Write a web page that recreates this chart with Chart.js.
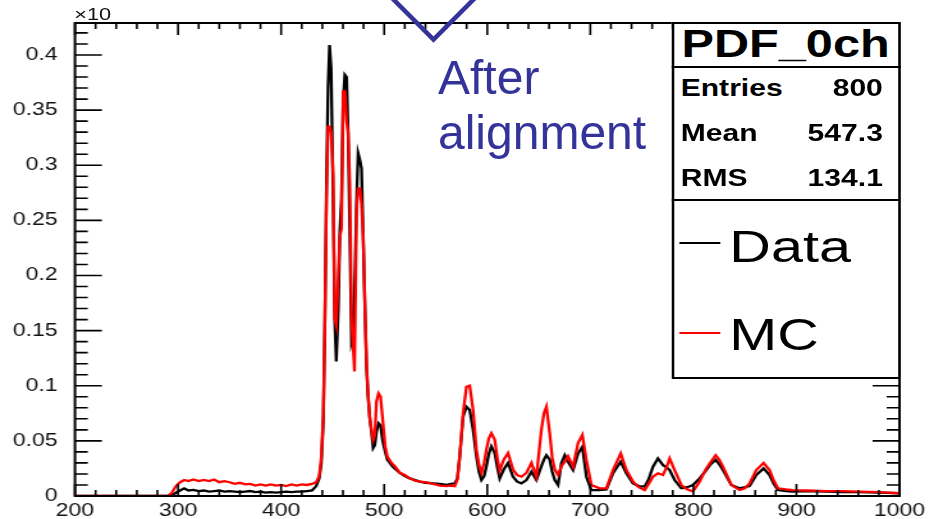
<!DOCTYPE html>
<html>
<head>
<meta charset="utf-8">
<script src="https://cdn.jsdelivr.net/npm/chart.js@4/dist/chart.umd.min.js"></script>
<style>
  html, body { margin: 0; padding: 0; background: #fff; overflow: hidden; }
  body { width: 934px; height: 519px; position: relative; font-family: "Liberation Sans", Arial, Helvetica, sans-serif; }
  #plotWrap { position: absolute; left: 0; top: 0; width: 730px; height: 519px; transform: scaleX(1.2795); transform-origin: 0 0; }
  #plotWrap canvas { position: absolute; left: 0; top: 0; }
  .txt { position: absolute; white-space: nowrap; }
  .box { position: absolute; box-sizing: border-box; border: 2px solid #000; background: #fff; }
  .hline { position: absolute; height: 2px; background: #000; }
</style>
</head>
<body>
<div id="plotWrap">
  <canvas id="c" width="730" height="519"></canvas>
</div>
<svg id="arrow" width="934" height="60" style="position:absolute;left:0;top:0">
  <polyline points="391,-3 433.5,39.5 476,-3" fill="none" stroke="#333399" stroke-width="4.5" stroke-linejoin="miter"/>
</svg>
<script>
// Bin centres (x) and bin contents of the two overlaid spectra.
const binCenters = [
  200, 290, 294, 298, 302, 306, 310, 315, 320, 325, 330, 335, 340, 345, 350, 355, 360, 365, 370, 375,
  380, 385, 390, 395, 400, 405, 410, 415, 420, 425, 430, 434, 437, 439, 441, 442.5, 444, 445.5, 447, 448.5,
  450.5, 452, 453.5, 455.5, 457, 458.6, 460.2, 461.8, 463.5, 465, 466.7, 468.3, 469.9, 471.2, 473.2, 474.7,
  476.4, 478, 479.6, 481.2, 482.9, 484.4, 486, 487.7, 489.3, 490.9, 492.5, 494.5, 496.5, 498.5, 501, 503,
  505.5, 508, 510.3, 515.2, 520, 524.8, 530, 534.5, 540, 547.4, 554, 560.4, 565, 568.5, 571, 573.3,
  576.6, 579.8, 583, 586.3, 589.5, 592, 594.4, 597, 599.2, 601.5, 604, 607.3, 610, 612.1, 616, 620.2,
  625, 629, 633.2, 638, 642.9, 647.7, 652.5, 655, 657.4, 660.6, 663, 665.5, 668.7, 672, 675.2, 678.4,
  683.3, 688.1, 692.3, 696.2, 701, 709, 715.6, 722, 729.5, 735, 741.4, 747, 752.7, 756.5, 760.8, 765.6,
  770.5, 774, 777, 781.8, 788.3, 794, 799.6, 806, 812.5, 817, 821.6, 825, 828.7, 836.8, 844.8, 850,
  854.5, 861, 868.1, 873.9, 878, 882, 890, 896.6, 910, 929, 945, 961, 980, 1000
];
const dataCounts = [
  0, 0, 0.0005, 0.003, 0.005, 0.007, 0.005, 0.0055, 0.0045, 0.005, 0.004, 0.0045, 0.005, 0.004, 0.0045, 0.004, 0.0035, 0.004, 0.0045, 0.0035,
  0.004, 0.003, 0.0035, 0.003, 0.0035, 0.004, 0.0035, 0.004, 0.004, 0.0045, 0.005, 0.009, 0.016, 0.03, 0.07, 0.16, 0.28, 0.37, 0.409, 0.388,
  0.27, 0.16, 0.122, 0.17, 0.24, 0.27, 0.358, 0.382, 0.38, 0.33, 0.237, 0.14, 0.146, 0.18, 0.267, 0.311,
  0.305, 0.297, 0.237, 0.176, 0.116, 0.09, 0.071, 0.058, 0.0435, 0.046, 0.058, 0.066, 0.064, 0.05, 0.04, 0.033,
  0.03, 0.027, 0.025, 0.021, 0.018, 0.016, 0.0145, 0.013, 0.012, 0.0115, 0.011, 0.010, 0.011, 0.0115, 0.016, 0.036,
  0.072, 0.081, 0.078, 0.06, 0.036, 0.022, 0.0145, 0.018, 0.027, 0.038, 0.045, 0.039, 0.025, 0.016, 0.024, 0.030,
  0.0175, 0.013, 0.0115, 0.0145, 0.022, 0.0145, 0.027, 0.033, 0.037, 0.033, 0.022, 0.0145, 0.010, 0.03, 0.037, 0.031,
  0.0235, 0.0385, 0.0447, 0.0175, 0.0054, 0.0054, 0.006, 0.0206, 0.031, 0.0206, 0.0115, 0.009, 0.0085, 0.015, 0.0266, 0.034,
  0.028, 0.026, 0.0235, 0.0145, 0.007, 0.008, 0.010, 0.016, 0.0235, 0.029, 0.0327, 0.029, 0.0235, 0.010, 0.007, 0.008,
  0.009, 0.019, 0.025, 0.019, 0.011, 0.0054, 0.0045, 0.004, 0.0045, 0.004, 0.0035, 0.0035, 0.003, 0.0025
];
const mcCounts = [
  0, 0, 0.003, 0.009, 0.0125, 0.0145, 0.0135, 0.015, 0.0135, 0.0145, 0.0135, 0.015, 0.0125, 0.0135, 0.0125, 0.011, 0.012, 0.0105, 0.011, 0.0095,
  0.0105, 0.0095, 0.0105, 0.0095, 0.010, 0.009, 0.0105, 0.0095, 0.0105, 0.010, 0.011, 0.0125, 0.018, 0.035, 0.075, 0.16, 0.27, 0.335, 0.335, 0.33,
  0.29, 0.161, 0.155, 0.2, 0.235, 0.243, 0.367, 0.367, 0.34, 0.33, 0.282, 0.161, 0.134, 0.113, 0.261, 0.279,
  0.279, 0.265, 0.237, 0.176, 0.12, 0.092, 0.071, 0.06, 0.051, 0.055, 0.0855, 0.093, 0.09, 0.07, 0.045, 0.036,
  0.032, 0.029, 0.027, 0.021, 0.019, 0.016, 0.014, 0.013, 0.0125, 0.011, 0.0095, 0.009, 0.0095, 0.009, 0.015, 0.035,
  0.075, 0.099, 0.1, 0.078, 0.042, 0.028, 0.021, 0.03, 0.042, 0.052, 0.057, 0.051, 0.033, 0.023, 0.033, 0.039,
  0.024, 0.019, 0.0175, 0.021, 0.03, 0.0175, 0.06, 0.075, 0.081, 0.057, 0.035, 0.024, 0.019, 0.027, 0.031, 0.036,
  0.0265, 0.048, 0.0553, 0.0327, 0.010, 0.007, 0.007, 0.0235, 0.0387, 0.0235, 0.013, 0.008, 0.0054, 0.011, 0.0175, 0.0206,
  0.019, 0.026, 0.034, 0.0235, 0.010, 0.006, 0.004, 0.013, 0.025, 0.031, 0.037, 0.033, 0.0266, 0.010, 0.0054, 0.007,
  0.0115, 0.0235, 0.030, 0.0235, 0.014, 0.007, 0.006, 0.0054, 0.005, 0.0045, 0.0045, 0.004, 0.0035, 0.0025
];
const xTickValues = [200, 300, 400, 500, 600, 700, 800, 900, 1000];
const yTickValues = [0, 0.05, 0.1, 0.15, 0.2, 0.25, 0.3, 0.35, 0.4];
const statsTitle = 'PDF_0ch';
const statsLabels = ['Entries', 'Mean', 'RMS'];
const statsValues = ['800', '547.3', '134.1'];
const seriesNames = ['Data', 'MC'];
const seriesColors = ['#000000', '#ff0000'];

const FONT = '"Liberation Sans", Arial, Helvetica, sans-serif';

// Place a text span by its baseline (line-height = font size).
function placeText(parent, str, o) {
  const el = document.createElement('div');
  el.className = 'txt';
  el.textContent = str;
  el.style.fontSize = o.size + 'px';
  el.style.lineHeight = o.size + 'px';
  el.style.fontWeight = o.weight || 'normal';
  el.style.color = o.color || '#000';
  el.style.top = (o.baseline - 0.8465 * o.size) + 'px';
  if (o.right !== undefined) { el.style.right = (parent.clientWidth - o.right) + 'px'; }
  else if (o.center !== undefined) { el.style.left = o.center + 'px'; el.style.transform = 'translateX(-50%)'; }
  else { el.style.left = o.left + 'px'; }
  parent.appendChild(el);
  return el;
}

// Frame with inward tick marks on all four sides.
const frameTicks = {
  id: 'frameTicks',
  afterDatasetsDraw(chart) {
    const { ctx, chartArea: a, scales: { x, y } } = chart;
    ctx.save();
    ctx.strokeStyle = '#000';
    ctx.lineWidth = 1.6;
    ctx.beginPath();
    for (let v = 200; v <= 1000 + 1e-9; v += 20) {
      const px = x.getPixelForValue(v);
      const len = (Math.round(v) % 100 === 0) ? 12 : 6;
      ctx.moveTo(px, a.bottom); ctx.lineTo(px, a.bottom - len);
      ctx.moveTo(px, a.top); ctx.lineTo(px, a.top + len);
    }
    for (let k = 0; k <= 42; k++) {
      const v = k * 0.01;
      const py = y.getPixelForValue(v);
      const len = (k % 5 === 0) ? 21 : 10;
      ctx.moveTo(a.left, py); ctx.lineTo(a.left + len, py);
      ctx.moveTo(a.right, py); ctx.lineTo(a.right - len, py);
    }
    ctx.stroke();
    ctx.lineWidth = 2;
    ctx.strokeRect(a.left, a.top, a.right - a.left, a.bottom - a.top);
    ctx.restore();
  }
};

const toPoints = vals => binCenters.map((xv, i) => ({ x: xv, y: vals[i] }));

new Chart(document.getElementById('c'), {
  type: 'line',
  data: {
    datasets: [
      { label: seriesNames[0], data: toPoints(dataCounts), borderColor: seriesColors[0], borderWidth: 2.3, pointRadius: 0, tension: 0, order: 1 },
      { label: seriesNames[1], data: toPoints(mcCounts), borderColor: seriesColors[1], borderWidth: 2.3, pointRadius: 0, tension: 0, order: 0 }
    ]
  },
  options: {
    responsive: false,
    animation: false,
    events: [],
    layout: { padding: { top: 23, right: 27, left: 0, bottom: 0 } },
    plugins: { legend: { display: false }, tooltip: { enabled: false } },
    scales: {
      x: {
        type: 'linear', min: 200, max: 1000,
        afterBuildTicks: s => { s.ticks = xTickValues.map(v => ({ value: v })); },
        afterFit: s => { s.height = 23; },
        grid: { display: false }, border: { display: false },
        ticks: { font: { family: FONT, size: 18 }, color: '#111', padding: -4, maxRotation: 0, autoSkip: false,
                 callback: v => String(v) }
      },
      y: {
        type: 'linear', min: 0, max: 0.429,
        afterBuildTicks: s => { s.ticks = yTickValues.map(v => ({ value: v })); },
        afterFit: s => { s.width = 58.6; },
        grid: { display: false }, border: { display: false },
        ticks: { font: { family: FONT, size: 18 }, color: '#111', padding: 5.5, autoSkip: false,
                 callback: v => String(+v.toFixed(2)) }
      }
    }
  },
  plugins: [frameTicks]
});

// Exponent marker, statistics box and legend (drawn inside the stretched plot layer).
const wrap = document.getElementById('plotWrap');
placeText(wrap, '×10', { left: 58, baseline: 20, size: 17, color: '#111' });

const stats = document.createElement('div');
stats.className = 'box';
Object.assign(stats.style, { left: '524.5px', top: '22px', width: '179.5px', height: '179px' });
wrap.appendChild(stats);
const divider = document.createElement('div');
divider.className = 'hline';
Object.assign(divider.style, { left: '524.5px', top: '66px', width: '179.5px' });
wrap.appendChild(divider);
placeText(wrap, statsTitle, { center: 614, baseline: 56.7, size: 38, weight: 'bold' });
const rowBase = [96.7, 141.7, 186.7];
statsLabels.forEach((lab, i) => {
  placeText(wrap, lab, { left: 532, baseline: rowBase[i], size: 23.5, weight: 'bold' });
  placeText(wrap, statsValues[i], { right: 690, baseline: rowBase[i], size: 23.5, weight: 'bold' });
});

const legend = document.createElement('div');
legend.className = 'box';
Object.assign(legend.style, { left: '524.5px', top: '199px', width: '179.5px', height: '180px' });
wrap.appendChild(legend);
const legY = [243, 333];
const legBase = [261.7, 350];
seriesNames.forEach((name, i) => {
  const ln = document.createElement('div');
  Object.assign(ln.style, { position: 'absolute', left: '531px', width: '32px', top: (legY[i] - 1) + 'px', height: '1.5px', backgroundColor: seriesColors[i] });
  wrap.appendChild(ln);
  placeText(wrap, name, { left: 570, baseline: legBase[i], size: 45 });
});

// Annotation text next to the arrow.
placeText(document.body, 'After', { left: 438, baseline: 95, size: 48, color: '#333399' });
placeText(document.body, 'alignment', { left: 438, baseline: 150, size: 48, color: '#333399' });
</script>
</body>
</html>
